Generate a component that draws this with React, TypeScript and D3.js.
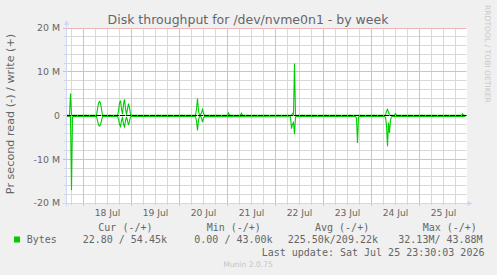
import React from "react";
import * as d3 from "d3";

// ---- data ----
const END_TIME = Date.UTC(2026, 6, 25, 23, 30);
const STEP_MS = 30 * 60 * 1000; // 30-minute slots
const SLOTS = 400;

const yTickValues = [-20, -10, 0, 10, 20];
const yTickLabels = ["-20 M", "-10 M", "0", "10 M", "20 M"];

// [slot, MB/s] write (+)
const writePoints: [number, number][] = [
  [0, 0.05], [3, 0.05], [4, 5.0], [5, 0.1], [6, 0.05],
  [30, 0.05], [31, 1.5], [32, 2.8], [33, 3.2], [34, 2.8], [35, 1.5], [36, 0.05],
  [51, 0.05], [52, 1.0], [53, 2.8], [54, 3.4], [55, 1.5], [56, 0.3], [57, 2.6], [58, 3.7], [59, 1.6], [60, 0.2], [61, 1.5], [62, 2.7], [63, 1.8], [64, 0.3], [65, 0.05],
  [129, 0.05], [130, 1.5], [131, 3.9], [132, 1.0], [133, 0.1], [134, 0.2], [135, 0.6], [136, 1.4], [137, 0.5], [138, 0.05],
  [161, 0.05], [162, 0.6], [163, 0.05],
  [174, 0.05], [175, 0.5], [176, 0.05],
  [225, 0.05], [226, 0.5], [227, 0.3], [228, 11.9], [229, 0.1], [230, 0.05],
  [319, 0.05], [320, 1.0], [321, 1.4], [322, 0.8], [323, 0.05],
  [328, 0.05], [329, 0.45], [330, 0.05],
  [395, 0.05], [396, 0.4], [397, 0.05], [399, 0.05],
];

// [slot, MB/s] read (-), drawn negated
const readPoints: [number, number][] = [
  [0, 0.22], [4, 0.22], [5, 17.0], [6, 0.3], [7, 0.22],
  [30, 0.22], [31, 1.2], [32, 2.1], [33, 2.4], [34, 2.1], [35, 1.2], [36, 0.22],
  [51, 0.22], [52, 0.8], [53, 2.0], [54, 2.5], [55, 1.2], [56, 0.3], [57, 2.0], [58, 2.6], [59, 1.2], [60, 0.3], [61, 1.2], [62, 2.2], [63, 1.4], [64, 0.3], [65, 0.22],
  [129, 0.22], [130, 1.2], [131, 3.4], [132, 1.0], [133, 0.2], [134, 0.2], [135, 0.5], [136, 1.5], [137, 0.6], [138, 0.22],
  [224, 0.3], [225, 3.0], [226, 2.0], [227, 1.6], [228, 4.3], [229, 0.3], [230, 0.22],
  [289, 0.22], [290, 0.6], [291, 6.3], [292, 0.3], [293, 0.22],
  [318, 0.22], [319, 0.4], [320, 2.2], [321, 7.0], [322, 1.6], [323, 4.0], [324, 1.0], [325, 0.3], [326, 0.22],
  [399, 0.22],
];

const legendName = "Bytes";
const legendHeaders = ["Cur (-/+)", "Min (-/+)", "Avg (-/+)", "Max (-/+)"];
const legendValues = ["22.80 / 54.45k", "0.00 / 43.00k", "225.50k/209.22k", "32.13M/ 43.88M"];
const lastUpdate = "Last update: Sat Jul 25 23:30:03 2026";
const titleText = "Disk throughput for /dev/nvme0n1 - by week";
const yTitle = "Pr second read (-) / write (+)";

// ---- layout ----
const W = 497, H = 275;
const X0 = 66.5, X1 = 466.5, YT = 28, YB = 203;
const FONT = "'DejaVu Sans', sans-serif";
const MONO = "'DejaVu Sans Mono', monospace";
const GREEN = "#00CC00";
const AXIS = "#CFD6F8";
const TXT = "#666666";
const px = (v: number) => Math.floor(v) + 0.5;

export default function App() {
  const start = END_TIME - SLOTS * STEP_MS;
  const x = d3.scaleUtc().domain([new Date(start), new Date(END_TIME)]).range([X0, X1]);
  const y = d3.scaleLinear().domain([-20, 20]).range([YB, YT]);
  const slotDate = (s: number) => new Date(start + s * STEP_MS);

  const line = d3
    .line<[number, number]>()
    .x((d) => x(slotDate(d[0])))
    .y((d) => y(d[1]));

  const writePath = line(writePoints) || "";
  const readPath = line(readPoints.map((d) => [d[0], -d[1]] as [number, number])) || "";

  const minorX = d3.utcHour.every(6)!.range(new Date(start), new Date(END_TIME)).filter((d) => d.getUTCHours() !== 0);
  const majorX = d3.utcDay.range(new Date(start), new Date(END_TIME));
  const labelDays = majorX.map((d) => new Date(d.getTime() + 12 * 3600 * 1000)).filter((d) => d.getTime() < END_TIME);
  const fmt = d3.utcFormat("%d %b");
  const minorY = d3.range(-20, 21, 2).filter((v) => v % 10 !== 0);

  const headerX = [98.3, 206.7, 315, 422.7];
  const valueX = [82.7, 194.3, 287.7, 398.3];
  const yb = px(YB);
  const x0 = px(X0);
  const gx0 = Math.floor(X0);

  return (
    <svg width={W} height={H} style={{ position: "absolute", left: 0, top: 0 }} xmlns="http://www.w3.org/2000/svg">
      <rect x={0} y={0} width={W} height={H} fill="#F0F0F0" />
      <rect x={X0} y={YT} width={X1 - X0 + 0.5} height={YB - YT} fill="#FFFFFF" />

      {/* minor grid */}
      {minorX.map((d, i) => (
        <path key={"mx" + i} d={`M${px(x(d))},${YT}V${YB + 2}`} fill="none" stroke="#d8d8d8" strokeWidth={1} />
      ))}
      {minorY.map((v, i) => (
        <path key={"my" + i} d={`M${gx0 - 2},${px(y(v))}H${X1}`} fill="none" stroke="#d8d8d8" strokeWidth={1} />
      ))}
      {/* major grid */}
      {majorX.map((d, i) => (
        <path key={"Mx" + i} d={`M${px(x(d))},${YT}V${YB + 3}`} fill="none" stroke="#ebb6b6" strokeWidth={1} />
      ))}
      {yTickValues.map((v, i) => (
        <path key={"My" + i} d={`M${gx0 - 3},${px(y(v))}H${X1}`} fill="none" stroke="#ebb6b6" strokeWidth={1} />
      ))}

      {/* data */}
      <path d={readPath} fill="none" stroke={GREEN} strokeWidth={1.1} />
      <path d={writePath} fill="none" stroke={GREEN} strokeWidth={1.1} />
      <path d={`M${gx0},${px(y(0))}H${X1}`} stroke="#000" strokeWidth={1} strokeDasharray="5 1" fill="none" />

      {/* axes */}
      <path d={`M${x0},${YB + 3}V${YT - 4}`} stroke={AXIS} strokeWidth={1} fill="none" />
      <path d={`M${X0 - 3},${yb}H${X1 + 2}`} stroke={AXIS} strokeWidth={1} fill="none" />
      <path d={`M${x0 - 2.5},${YT - 3} L${x0 + 2.5},${YT - 3} L${x0},${YT - 8} Z`} fill={AXIS} />
      <path d={`M${X1 + 1},${yb - 2.5} L${X1 + 1},${yb + 2.5} L${X1 + 6},${yb} Z`} fill={AXIS} />

      {/* y tick labels */}
      {yTickValues.map((v, i) => (
        <text key={"yl" + i} x={60} y={y(v)} dy="0.35em" textAnchor="end" fontFamily={FONT} fontSize={9.4} fill={TXT}>
          {yTickLabels[i]}
        </text>
      ))}
      {/* x tick labels */}
      {labelDays.map((d, i) => (
        <text key={"xl" + i} x={x(d)} y={216} textAnchor="middle" fontFamily={FONT} fontSize={9.2} fill={TXT}>
          {fmt(d)}
        </text>
      ))}

      {/* title */}
      <text x={248} y={23.5} textAnchor="middle" fontFamily={FONT} fontSize={12.5} fill={TXT}>
        {titleText}
      </text>
      {/* y title */}
      <text transform="translate(13.5,114) rotate(-90)" textAnchor="middle" fontFamily={FONT} fontSize={11.2} fill={TXT}>
        {yTitle}
      </text>
      {/* watermark */}
      <text transform="translate(485,5) rotate(90)" textAnchor="start" fontFamily={FONT} fontSize={7.6} fill="#c8c8c8">
        RRDTOOL / TOBI OETIKER
      </text>

      {/* legend */}
      <rect x={14} y={236.5} width={6} height={6} fill={GREEN} />
      <text x={26.7} y={243} fontFamily={MONO} fontSize={10} fill={TXT}>{legendName}</text>
      {legendHeaders.map((h, i) => (
        <text key={"lh" + i} x={headerX[i]} y={230.5} fontFamily={MONO} fontSize={10} fill={TXT} style={{ whiteSpace: "pre" }}>
          {h}
        </text>
      ))}
      {legendValues.map((v, i) => (
        <text key={"lv" + i} x={valueX[i]} y={243} fontFamily={MONO} fontSize={10} fill={TXT} style={{ whiteSpace: "pre" }}>
          {v}
        </text>
      ))}
      <text x={261.7} y={255.5} fontFamily={MONO} fontSize={10} fill={TXT}>{lastUpdate}</text>
      <text x={248} y={267} textAnchor="middle" fontFamily={FONT} fontSize={7.6} fill="#c4c4c4">Munin 2.0.75</text>
    </svg>
  );
}
